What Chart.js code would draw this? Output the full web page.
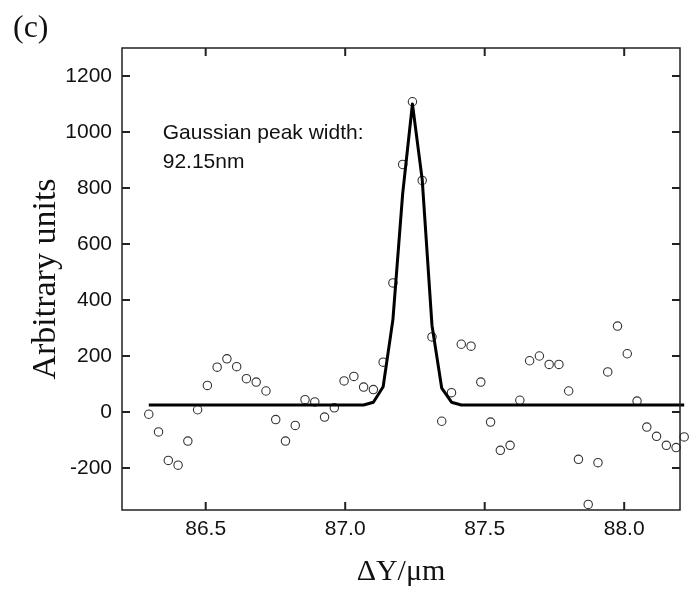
<!DOCTYPE html>
<html>
<head>
<meta charset="utf-8">
<script src="https://cdn.jsdelivr.net/npm/chart.js@4/dist/chart.umd.min.js"></script>
<style>
  html, body { margin: 0; padding: 0; background: #fff; }
  canvas { display: block; }
</style>
</head>
<body>
<canvas id="peakChart" width="691" height="593"></canvas>
<script>
// Measured scan positions (ΔY, µm)
const dyPositions = [
  86.296, 86.331, 86.366, 86.401, 86.436, 86.471, 86.506, 86.541, 86.576, 86.611,
  86.646, 86.681, 86.716, 86.751, 86.786, 86.821, 86.856, 86.891, 86.926, 86.961,
  86.996, 87.031, 87.066, 87.101, 87.136, 87.171, 87.206, 87.241, 87.276, 87.311,
  87.346, 87.381, 87.416, 87.451, 87.486, 87.521, 87.556, 87.591, 87.626, 87.661,
  87.696, 87.731, 87.766, 87.801, 87.836, 87.871, 87.906, 87.941, 87.976, 88.011,
  88.046, 88.081, 88.116, 88.151, 88.186, 88.215
];

// Measured signal (open circles)
const signalValues = [
  -8, -71, -173, -190, -104, 8, 95, 160, 190, 162,
  119, 107, 75, -27, -104, -48, 44, 36, -18, 15,
  111, 127, 89, 80, 178, 461, 884, 1108, 827, 268,
  -33, 69, 242, 235, 107, -36, -137, -119, 42, 183,
  200, 170, 170, 75, -169, -330, -181, 143, 307, 208,
  39, -54, -87, -119, -127, -89
];

// Gaussian fit curve (solid line)
const fitValues = [
  25, 25, 25, 25, 25, 25, 25, 25, 25, 25,
  25, 25, 25, 25, 25, 25, 25, 25, 25, 25,
  25, 25, 25, 35, 90, 330, 780, 1100, 830, 310,
  85, 35, 25, 25, 25, 25, 25, 25, 25, 25,
  25, 25, 25, 25, 25, 25, 25, 25, 25, 25,
  25, 25, 25, 25, 25, 25
];

const xTickValues = [86.5, 87.0, 87.5, 88.0];
const yTickValues = [-200, 0, 200, 400, 600, 800, 1000, 1200];
const panelLabel = '(c)';
const noteLines = ['Gaussian peak width:', '92.15nm'];

const sansFont = '"Liberation Sans", Arial, sans-serif';
const serifFont = '"Liberation Serif", "Times New Roman", serif';

// Frame on all four sides with inward ticks
const frameTicks = {
  id: 'frameTicks',
  afterDatasetsDraw(chart) {
    const { ctx, chartArea: a, scales: { x, y } } = chart;
    ctx.save();
    ctx.strokeStyle = '#222';
    ctx.lineWidth = 1.5;
    ctx.strokeRect(a.left, a.top, a.right - a.left, a.bottom - a.top);
    ctx.lineWidth = 2;
    ctx.beginPath();
    x.ticks.forEach(t => {
      const px = x.getPixelForValue(t.value);
      ctx.moveTo(px, a.bottom); ctx.lineTo(px, a.bottom - 8);
      ctx.moveTo(px, a.top); ctx.lineTo(px, a.top + 8);
    });
    y.ticks.forEach(t => {
      const py = y.getPixelForValue(t.value);
      ctx.moveTo(a.left, py); ctx.lineTo(a.left + 8, py);
      ctx.moveTo(a.right, py); ctx.lineTo(a.right - 8, py);
    });
    ctx.stroke();
    ctx.restore();
  }
};

// Panel label and fit annotation
const textNotes = {
  id: 'textNotes',
  afterDraw(chart) {
    const { ctx, scales: { x, y } } = chart;
    ctx.save();
    ctx.fillStyle = '#111';
    ctx.textBaseline = 'alphabetic';
    ctx.textAlign = 'left';
    ctx.font = '32px ' + serifFont;
    ctx.fillText(panelLabel, 13, 37);
    ctx.font = '21px ' + sansFont;
    ctx.fillText(noteLines[0], x.getPixelForValue(86.346), y.getPixelForValue(975));
    ctx.fillText(noteLines[1], x.getPixelForValue(86.346), y.getPixelForValue(870));
    ctx.restore();
  }
};

const ctx = document.getElementById('peakChart').getContext('2d');

const peakChart = new Chart(ctx, {
  type: 'scatter',
  data: {
    datasets: [
      {
        label: 'Gaussian fit',
        data: dyPositions.map((v, i) => ({ x: v, y: fitValues[i] })),
        showLine: true,
        borderColor: '#000',
        borderWidth: 3,
        borderJoinStyle: 'round',
        pointRadius: 0,
        tension: 0,
        clip: false,
        order: 0,
      },
      {
        label: 'Signal',
        data: dyPositions.map((v, i) => ({ x: v, y: signalValues[i] })),
        pointStyle: 'circle',
        pointRadius: 4.2,
        borderWidth: 1.1,
        borderColor: '#333',
        backgroundColor: 'rgba(0,0,0,0)',
        clip: false,
        order: 1,
      },
    ],
  },
  options: {
    responsive: false,
    animation: false,
    events: [],
    layout: {
      padding: { left: 0, top: 48, right: 11, bottom: 3 },
    },
    plugins: {
      legend: { display: false },
      tooltip: { enabled: false },
    },
    scales: {
      x: {
        type: 'linear',
        min: 86.2,
        max: 88.2,
        afterFit: s => { s.height = 80; },
        afterBuildTicks: s => { s.ticks = xTickValues.map(v => ({ value: v })); },
        grid: { display: false, drawTicks: false },
        border: { display: false },
        ticks: {
          padding: 7,
          color: '#111',
          font: { family: sansFont, size: 21 },
          callback: v => Number(v).toFixed(1),
        },
        title: {
          display: true,
          text: 'ΔY/μm',
          color: '#111',
          font: { family: serifFont, size: 30 },
          padding: { top: 0, bottom: 0 },
        },
      },
      y: {
        type: 'linear',
        min: -350,
        max: 1300,
        afterFit: s => { s.width = 122; },
        afterBuildTicks: s => { s.ticks = yTickValues.map(v => ({ value: v })); },
        grid: { display: false, drawTicks: false },
        border: { display: false },
        ticks: {
          padding: 10,
          color: '#111',
          font: { family: sansFont, size: 21 },
          callback: v => String(v),
        },
        title: {
          display: true,
          text: 'Arbitrary units',
          color: '#111',
          font: { family: serifFont, size: 34 },
          padding: { top: 26, bottom: 0 },
        },
      },
    },
  },
  plugins: [frameTicks, textNotes],
});
</script>
</body>
</html>
